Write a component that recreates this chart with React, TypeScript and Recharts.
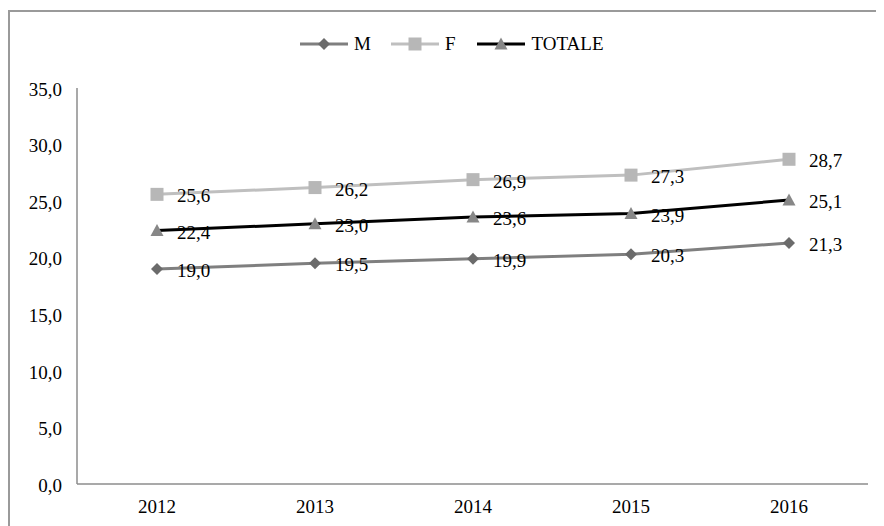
import React from 'react';
import { LineChart, Line, XAxis, YAxis, Legend, LabelList } from 'recharts';

const years = ['2012', '2013', '2014', '2015', '2016'];
const maleValues = [19.0, 19.5, 19.9, 20.3, 21.3];
const femaleValues = [25.6, 26.2, 26.9, 27.3, 28.7];
const totalValues = [22.4, 23.0, 23.6, 23.9, 25.1];
const yTicks = [0, 5, 10, 15, 20, 25, 30, 35];

const data = years.map((y, i) => ({ year: y, M: maleValues[i], F: femaleValues[i], TOTALE: totalValues[i] }));

const FONT = '"Liberation Serif", "Times New Roman", Times, serif';
const fmt = (v: number) => v.toFixed(1).replace('.', ',');

const M_LINE = '#7f7f7f';
const M_MARK = '#6b6b6b';
const F_LINE = '#bfbfbf';
const F_MARK = '#b7b7b7';
const T_LINE = '#000000';
const T_MARK = '#878787';

const Diamond = ({ cx, cy, fill }: any) => (
  <polygon points={`${cx},${cy - 6} ${cx + 6},${cy} ${cx},${cy + 6} ${cx - 6},${cy}`} fill={fill} />
);
const Square = ({ cx, cy, fill }: any) => <rect x={cx - 6.5} y={cy - 6.5} width={13} height={13} fill={fill} />;
const Triangle = ({ cx, cy, fill }: any) => (
  <polygon points={`${cx},${cy - 6.5} ${cx + 6.5},${cy + 5.5} ${cx - 6.5},${cy + 5.5}`} fill={fill} />
);

const renderLabel = (props: any) => {
  const { x, y, value } = props;
  return (
    <text x={x + 20} y={y + 8} fontSize={19} fontFamily={FONT} fill="#000">
      {fmt(value)}
    </text>
  );
};

const legendItems = [
  { name: 'M', line: M_LINE, mark: M_MARK, Shape: Diamond, gap: 20 },
  { name: 'F', line: F_LINE, mark: F_MARK, Shape: Square, gap: 22 },
  { name: 'TOTALE', line: T_LINE, mark: T_MARK, Shape: Triangle, gap: 0 },
];

const LegendContent = () => (
  <div style={{ display: 'flex', alignItems: 'center', paddingLeft: 290, height: 20 }}>
    {legendItems.map((it) => (
      <div key={it.name} style={{ display: 'flex', alignItems: 'center', marginRight: it.gap }}>
        <svg width={48} height={16} style={{ display: 'block' }}>
          <line x1={0} y1={8} x2={48} y2={8} stroke={it.line} strokeWidth={3} />
          <it.Shape cx={24} cy={8} fill={it.mark} />
        </svg>
        <span style={{ fontFamily: FONT, fontSize: 19, marginLeft: 6, color: '#000', lineHeight: '20px' }}>{it.name}</span>
      </div>
    ))}
  </div>
);

export default function App() {
  return (
    <div
      style={{
        marginTop: 2,
        width: 872,
        height: 522,
        border: '2px solid #9a9a9a',
        background: '#fff',
      }}
    >
      <LineChart width={872} height={520} data={data} margin={{ top: 76, right: 14, left: 7, bottom: 18 }}>
        <Legend verticalAlign="middle" align="center" content={<LegendContent />} wrapperStyle={{ top: 22, left: 0, width: 872 }} />
        <XAxis
          dataKey="year"
          tickLine={false}
          axisLine={{ stroke: '#8c8c8c', strokeWidth: 1.5 }}
          tick={{ fontSize: 19, fontFamily: FONT, fill: '#000' }}
          tickMargin={10}
          height={30}
          padding={{ left: 80, right: 79 }}
        />
        <YAxis
          domain={[0, 35]}
          ticks={yTicks}
          interval={0}
          tickFormatter={fmt}
          tickLine={false}
          axisLine={{ stroke: '#8c8c8c', strokeWidth: 1.5 }}
          tick={{ fontSize: 19, fontFamily: FONT, fill: '#000', dy: 1 }}
          tickMargin={9}
          width={60}
        />
        <Line
          type="linear"
          dataKey="M"
          stroke={M_LINE}
          strokeWidth={3}
          isAnimationActive={false}
          dot={(p: any) => <Diamond key={`m${p.index}`} cx={p.cx} cy={p.cy} fill={M_MARK} />}
          activeDot={false}
        >
          <LabelList dataKey="M" content={renderLabel} />
        </Line>
        <Line
          type="linear"
          dataKey="F"
          stroke={F_LINE}
          strokeWidth={3}
          isAnimationActive={false}
          dot={(p: any) => <Square key={`f${p.index}`} cx={p.cx} cy={p.cy} fill={F_MARK} />}
          activeDot={false}
        >
          <LabelList dataKey="F" content={renderLabel} />
        </Line>
        <Line
          type="linear"
          dataKey="TOTALE"
          stroke={T_LINE}
          strokeWidth={3}
          isAnimationActive={false}
          dot={(p: any) => <Triangle key={`t${p.index}`} cx={p.cx} cy={p.cy} fill={T_MARK} />}
          activeDot={false}
        >
          <LabelList dataKey="TOTALE" content={renderLabel} />
        </Line>
      </LineChart>
    </div>
  );
}
